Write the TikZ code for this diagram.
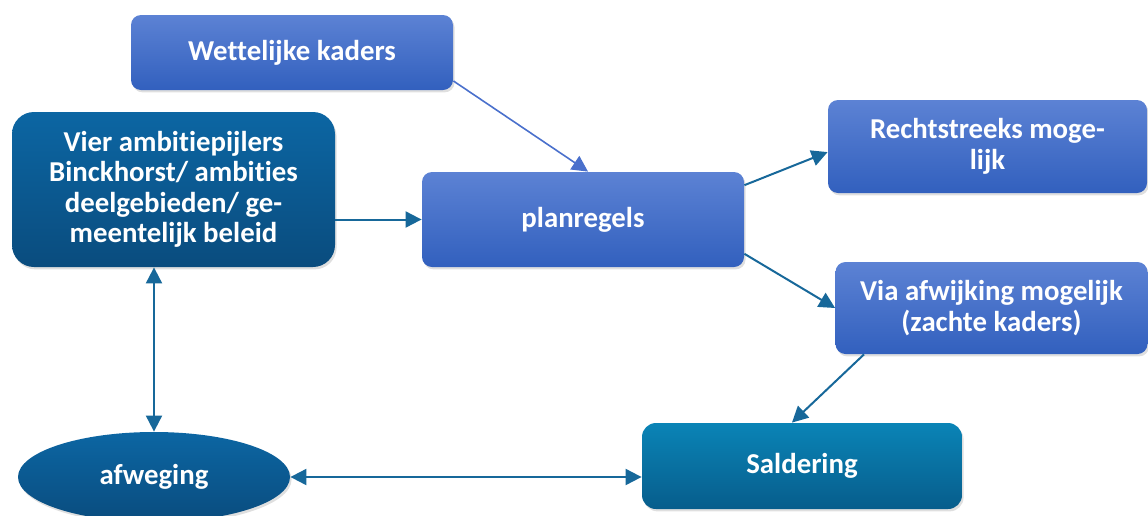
\documentclass[tikz,border=0pt]{standalone}
\usepackage{fontspec}
\setmainfont{Carlito}[Ligatures=NoCommon]
\usetikzlibrary{arrows.meta,shapes,shadows,positioning}

\definecolor{lighttop}{RGB}{92,130,212}
\definecolor{lightbot}{RGB}{50,96,190}
\definecolor{darktop}{RGB}{12,102,163}
\definecolor{darkbot}{RGB}{10,76,126}
\definecolor{tealtop}{RGB}{10,132,182}
\definecolor{tealbot}{RGB}{7,93,140}
\definecolor{linkcol}{RGB}{23,104,154}
\definecolor{lightlinkcol}{RGB}{74,112,204}

\begin{document}
\begin{tikzpicture}[x=0.5pt,y=-0.5pt,
		every node/.style={font=\fontsize{14.4}{15.2}\selectfont\bfseries, text=white, align=center, inner sep=0pt},
		shade/.style={drop shadow={opacity=0.25, shadow xshift=0.8pt, shadow yshift=-1.2pt}},
		lightbox/.style={rectangle, rounded corners=5pt, top color=lighttop, bottom color=lightbot, shade},
		darkbox/.style={rectangle, rounded corners=11pt, top color=darktop, bottom color=darkbot, shade},
		tealbox/.style={rectangle, rounded corners=7pt, top color=tealtop, bottom color=tealbot, shade},
		darkoval/.style={ellipse, top color=darktop, bottom color=darkbot, shade},
		arr/.tip={Triangle[length=8pt,width=8pt]},
		every edge/.style={draw, -arr, line width=1pt, linkcol},
		twoway/.style={arr-arr},
		lightlink/.style={lightlinkcol, line width=0.8pt}]

		\useasboundingbox (0,0) rectangle (1148,515);

		% Nodes
		\node (wk) [lightbox, minimum width=161pt, minimum height=37.5pt] at (292,52.5) {Wettelijke kaders};
		\node (vier) [darkbox, minimum width=161.5pt, minimum height=77.5pt] at (173.5,189.5)
			{Vier ambitiepijlers\\Binckhorst/ ambities\\deelgebieden/ ge-\\meentelijk beleid};
		\node (pr) [lightbox, minimum width=161pt, minimum height=47.5pt] at (583,219.5) {planregels};
		\node (rs) [lightbox, minimum width=159.5pt, minimum height=46.5pt] at (987.5,146.5) {Rechtstreeks moge-\\lijk};
		\node (va) [lightbox, minimum width=156pt, minimum height=46pt] at (991.5,308) {Via afwijking mogelijk\\(zachte kaders)};
		\node (sd) [tealbox, minimum width=160pt, minimum height=43pt] at (802,466) {Saldering};
		\node (aw) [darkoval, minimum width=136pt, minimum height=45pt] at (154,477) {afweging};

		% Edges
		\draw (wk.-10) edge[lightlink] (pr.84);
		\draw (vier.east |- pr.west) edge (pr.west);
		\draw (pr.12) edge (rs.182);
		\draw (pr.-12) edge (va.west);
		\draw (va.200) edge (sd.103);
		\draw (aw.north |- vier.south) edge[twoway] (aw.north);
		\draw (aw.east) edge[twoway] (sd.west |- aw.east);
	\end{tikzpicture}
\end{document}
